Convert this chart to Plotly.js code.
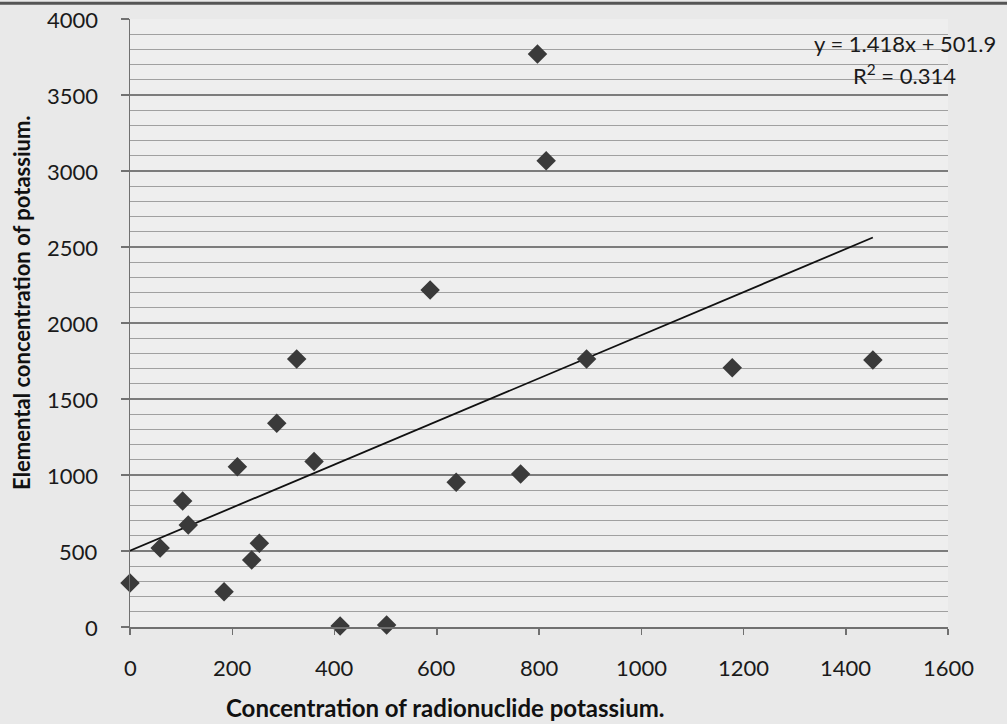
<!DOCTYPE html>
<html>
<head>
<meta charset="utf-8">
<script src="https://cdn.plot.ly/plotly-3.0.1.min.js"></script>
<style>
  html, body { margin: 0; padding: 0; background: #e9e9e9; }
  #chart { width: 1007px; height: 724px; }
</style>
</head>
<body>
<div id="chart"></div>
<script>
// Radionuclide potassium concentration (x) vs elemental potassium concentration (y)
const radionuclideK = [0, 59, 103, 114, 184, 210, 238, 253, 287, 326, 360, 411, 502, 587, 638, 764, 797, 814, 893, 1178, 1453];
const elementalK    = [289, 520, 829, 671, 232, 1055, 441, 551, 1340, 1763, 1088, 7, 13, 2217, 952, 1007, 3770, 3068, 1763, 1706, 1757];

// Linear trendline coefficients (as printed on chart)
const trendSlope = 1.418;
const trendIntercept = 501.9;
const r2 = 0.314;

const xTickVals = [0, 200, 400, 600, 800, 1000, 1200, 1400, 1600];
const yTickVals = [0, 500, 1000, 1500, 2000, 2500, 3000, 3500, 4000];

const xMin = Math.min(...radionuclideK);
const xMax = Math.max(...radionuclideK);
const trendX = [xMin, xMax];
const trendY = trendX.map(v => trendSlope * v + trendIntercept);

const font = "Lato, 'Open Sans', sans-serif";
const tickFont = { family: font, size: 22, color: '#1a1a1a' };

const traces = [
  {
    type: 'scatter', mode: 'lines', x: trendX, y: trendY,
    line: { color: '#111111', width: 1.8 }, hoverinfo: 'skip', showlegend: false
  },
  {
    type: 'scatter', mode: 'markers', x: radionuclideK, y: elementalK,
    marker: { symbol: 'diamond', size: 15, color: '#3a3a3a' },
    cliponaxis: false, showlegend: false
  }
];

const annotations = [];
xTickVals.forEach(v => annotations.push({
  text: String(v), xref: 'x', yref: 'paper', x: v, y: -0.066,
  xanchor: 'center', yanchor: 'middle', showarrow: false, font: tickFont
}));
yTickVals.forEach(v => annotations.push({
  text: String(v), xref: 'paper', yref: 'y', x: -0.0367, y: v,
  xanchor: 'right', yanchor: 'middle', showarrow: false, font: tickFont
}));
annotations.push(
  { text: '<b>Elemental concentration of potassium.</b>', xref: 'paper', yref: 'paper',
    x: -0.132, y: 0.533, xanchor: 'center', yanchor: 'middle', textangle: -90,
    showarrow: false, font: { family: font, size: 22, color: '#111111' } },
  { text: '<b>Concentration of radionuclide potassium.</b>', xref: 'paper', yref: 'paper',
    x: 0.386, y: -0.133, xanchor: 'center', yanchor: 'middle',
    showarrow: false, font: { family: font, size: 24, color: '#111111' } },
  { text: 'y = ' + trendSlope.toFixed(3) + 'x + ' + trendIntercept.toFixed(1), xref: 'paper', yref: 'paper',
    x: 0.947, y: 0.9605, xanchor: 'center', yanchor: 'middle',
    showarrow: false, font: { family: font, size: 22, color: '#1a1a1a' } },
  { text: 'R<sup>2</sup> = ' + r2.toFixed(3), xref: 'paper', yref: 'paper',
    x: 0.947, y: 0.908, xanchor: 'center', yanchor: 'middle',
    showarrow: false, font: { family: font, size: 22, color: '#1a1a1a' } }
);

const layout = {
  width: 1007, height: 724,
  margin: { l: 130, r: 59, t: 19, b: 97 },
  paper_bgcolor: '#e9e9e9',
  plot_bgcolor: '#eeeeee',
  showlegend: false,
  font: { family: font, color: '#1a1a1a' },
  xaxis: {
    range: [0, 1600], tickvals: xTickVals, showticklabels: false,
    showgrid: false, zeroline: false,
    showline: true, linecolor: '#707070', linewidth: 1.5,
    ticks: 'outside', ticklen: 6, tickcolor: '#707070', tickwidth: 1.5
  },
  yaxis: {
    range: [0, 4000], tickvals: yTickVals, showticklabels: false,
    showgrid: true, gridcolor: '#7c7c7c', gridwidth: 1.5,
    zeroline: false,
    showline: true, linecolor: '#707070', linewidth: 1.5,
    ticks: 'outside', ticklen: 8, tickcolor: '#707070', tickwidth: 1.5,
    minor: { dtick: 100, showgrid: true, gridcolor: '#a0a0a0', gridwidth: 1, ticks: '' }
  },
  shapes: [
    { type: 'line', xref: 'paper', yref: 'paper', x0: -0.2, x1: 1.1, y0: 1.026, y1: 1.026,
      line: { color: '#555555', width: 3 } }
  ],
  annotations: annotations
};

Plotly.newPlot('chart', traces, layout, { displayModeBar: false, staticPlot: true });
</script>
</body>
</html>
